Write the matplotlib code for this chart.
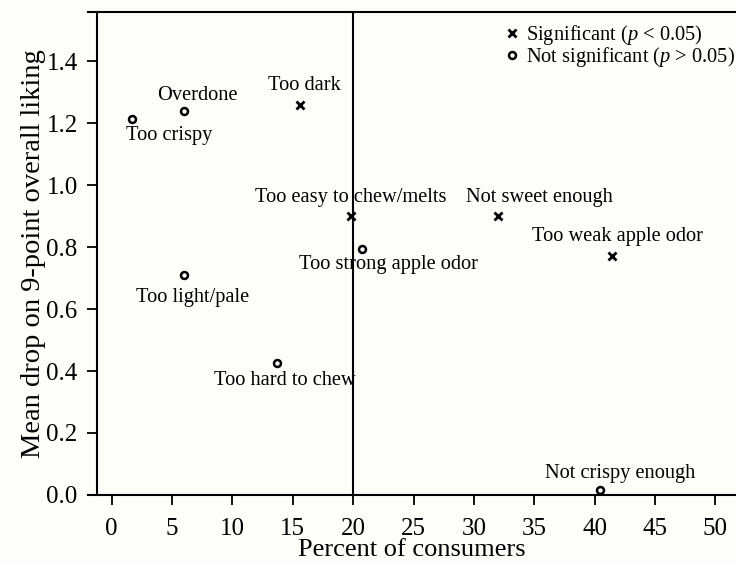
import matplotlib
matplotlib.use("Agg")
import matplotlib.pyplot as plt

# ---- data ---------------------------------------------------------------
sig_labels = ["Too dark", "Too easy to chew/melts", "Not sweet enough", "Too weak apple odor"]
sig_pct    = [15.6, 19.8, 32.0, 41.4]
sig_drop   = [1.26, 0.90, 0.90, 0.77]

ns_labels = ["Too crispy", "Overdone", "Too strong apple odor", "Too light/pale",
             "Too hard to chew", "Not crispy enough"]
ns_pct    = [1.7, 6.0, 20.7, 6.0, 13.7, 40.4]
ns_drop   = [1.215, 1.24, 0.795, 0.71, 0.425, 0.015]

# label offsets in pixels (dx right, dy up)
sig_off = [(4, 19), (0, 19), (41, 19), (6, 20)]
ns_off  = [(37, -17), (13, 15), (27, -16), (9, -22), (8, -17), (21, 17)]

BG = "#fdfdf9"
plt.rcParams.update({"font.family": "Liberation Serif", "mathtext.fontset": "custom",
    "mathtext.it": "Liberation Serif:italic", "mathtext.rm": "Liberation Serif",
    "axes.linewidth": 1.5})

fig = plt.figure(figsize=(7.36, 5.63), dpi=100, facecolor=BG)
ax = fig.add_axes([0.1196, 0.121, 0.8804, 0.858], facecolor=BG)

ax.plot(sig_pct, sig_drop, ls="none", marker="x", ms=6, mew=2, color="black",
        label=r"Significant ($p$ < 0.05)")
ax.plot(ns_pct, ns_drop, ls="none", marker="o", ms=5, mew=1.8, mfc="none", color="black",
        label=r"Not significant ($p$ > 0.05)")

for lab, x, y, (dx, dy) in zip(sig_labels + ns_labels, sig_pct + ns_pct,
                               sig_drop + ns_drop, sig_off + ns_off):
    ax.annotate(lab, (x, y), xytext=(dx, dy), textcoords="offset pixels",
                ha="center", va="center", fontsize=14.7)

ax.axvline(20, color="black", lw=1.5)

ax.set_xlim(-1.95, 51.7)
ax.set_ylim(0, 1.56)
ax.spines["left"].set_position(("data", -1.2))
ax.spines["right"].set_visible(False)
ax.set_xticks(range(0, 51, 5))
ax.set_yticks([0, 0.2, 0.4, 0.6, 0.8, 1.0, 1.2, 1.4])
ax.set_yticklabels([f"{v:.1f}" for v in ax.get_yticks()])
ax.tick_params(labelsize=18, length=7, width=1.3, direction="out")
ax.tick_params(axis="y", pad=7)
ax.tick_params(axis="x", pad=10)
ax.set_xlabel("Percent of consumers", fontsize=19, labelpad=-1)
ax.set_ylabel("Mean drop on 9-point overall liking", fontsize=20.5, labelpad=0)

ax.legend(loc="upper left", bbox_to_anchor=(0.6466, 0.977), frameon=False, fontsize=14.7,
          handlelength=0.5, handletextpad=0.44, labelspacing=-0.08,
          borderaxespad=0, borderpad=0)

fig.savefig("out.png", dpi=100, facecolor=BG)
